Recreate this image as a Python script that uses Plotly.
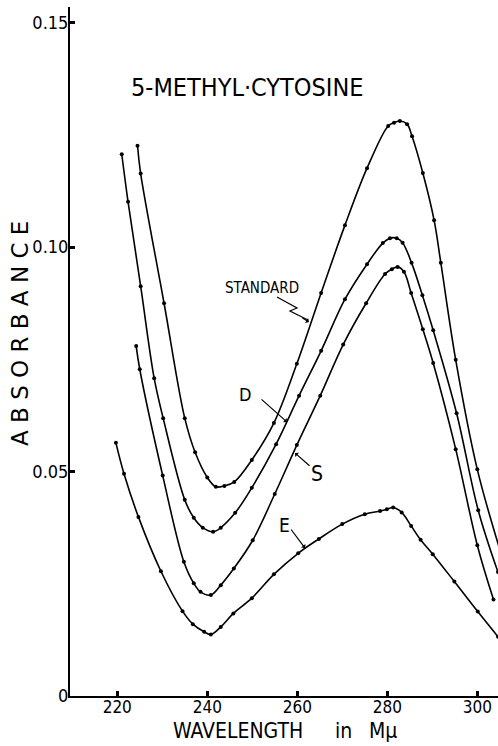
import plotly.graph_objects as go

# ---------------- data (wavelength in mu, absorbance) ----------------
std_wl = [224.5, 225.2, 230.4, 235.0, 237.3, 240.0, 241.9, 243.8, 246.0, 249.9,
          254.8, 259.9, 265.3, 270.6, 275.5, 280.2, 281.5, 282.8, 284.4, 285.5,
          287.9, 290.4, 291.9, 295.2, 300.0, 305.2]
std_ab = [0.1226, 0.1164, 0.0875, 0.0619, 0.0543, 0.0487, 0.0466, 0.0468, 0.0477, 0.0526,
          0.0608, 0.0740, 0.0898, 0.1049, 0.1176, 0.1270, 0.1277, 0.1281, 0.1274, 0.1247,
          0.1165, 0.1060, 0.0965, 0.0749, 0.0505, 0.0320]

d_wl = [221.0, 222.4, 225.2, 228.2, 230.2, 235.0, 237.0, 239.0, 241.3, 243.0,
        246.2, 249.9, 255.3, 260.4, 265.3, 270.6, 275.5, 279.0, 280.6, 282.1,
        283.4, 285.4, 287.8, 290.2, 295.4, 300.2, 304.6]
d_ab = [0.1207, 0.1101, 0.0913, 0.0708, 0.0619, 0.0437, 0.0397, 0.0375, 0.0366, 0.0375,
        0.0408, 0.0464, 0.0561, 0.0669, 0.0769, 0.0884, 0.0962, 0.1009, 0.1020, 0.1020,
        0.1010, 0.0965, 0.0893, 0.0815, 0.0630, 0.0414, 0.0276]

s_wl = [224.2, 225.0, 230.1, 234.8, 237.0, 238.5, 240.8, 243.0, 245.9, 250.1,
        255.0, 259.9, 265.1, 270.2, 275.3, 279.5, 281.0, 282.3, 283.7, 285.3,
        287.9, 290.2, 295.2, 300.0, 303.6]
s_ab = [0.0780, 0.0728, 0.0491, 0.0299, 0.0251, 0.0232, 0.0225, 0.0247, 0.0284, 0.0347,
        0.0450, 0.0559, 0.0669, 0.0783, 0.0875, 0.0940, 0.0951, 0.0956, 0.0945, 0.0898,
        0.0817, 0.0742, 0.0550, 0.0336, 0.0215]

e_wl = [219.7, 221.5, 224.7, 229.7, 234.5, 236.8, 239.3, 240.8, 243.0, 245.8,
        249.9, 254.8, 260.2, 264.8, 270.0, 275.0, 278.4, 279.9, 281.3, 283.2,
        285.3, 287.4, 290.1, 294.9, 300.1, 304.6]
e_ab = [0.0564, 0.0495, 0.0399, 0.0278, 0.0189, 0.0160, 0.0143, 0.0137, 0.0154, 0.0184,
        0.0218, 0.0271, 0.0318, 0.0350, 0.0383, 0.0405, 0.0412, 0.0416, 0.0420, 0.0409,
        0.0379, 0.0348, 0.0316, 0.0255, 0.0188, 0.0132]

x_ticks = [220, 240, 260, 280, 300]
y_ticks = [0, 0.05, 0.10, 0.15]
y_ticktext = ["0", "0.05", "0.10", "0.15"]

# ---------------- layout helpers ----------------
W, H = 498, 746
ML, MR, MT, MB = 70, 0, 7, 50
FONT = "DejaVu Sans Condensed, DejaVu Sans, sans-serif"


def px(xp):
    return (xp - ML) / (W - ML - MR)


def py(yp):
    return (H - MB - yp) / (H - MT - MB)


fig = go.Figure()
for wl, ab in [(std_wl, std_ab), (d_wl, d_ab), (s_wl, s_ab), (e_wl, e_ab)]:
    fig.add_trace(go.Scatter(
        x=wl, y=ab, mode="lines+markers",
        line=dict(color="black", width=1.6, shape="spline", smoothing=1.0),
        marker=dict(size=4, color="black"),
        showlegend=False, hoverinfo="skip"))

ann = []


def text_ann(txt, cx, cy, size, family=FONT, angle=0):
    ann.append(dict(x=px(cx), y=py(cy), xref="paper", yref="paper", showarrow=False,
                    xanchor="center", yanchor="middle", text=txt, textangle=angle,
                    font=dict(family=family, size=size, color="black")))


# title
text_ann("5-METHYL·CYTOSINE", 247, 88, 25)
# y title
text_ann("A B S O R B A N C E", 20, 334, 23, family="DejaVu Sans, sans-serif", angle=-90)
# x title parts
text_ann("WAVELENGTH", 238, 731, 21)
text_ann("in", 343, 731, 21)
text_ann("Mμ", 383, 731, 21)
# curve labels
text_ann("STANDARD", 262, 288, 15)
text_ann("D", 245, 395, 18)
text_ann("S", 317, 474, 21)
text_ann("E", 284, 525, 19)

# arrows (head, tail)
for hx, hy, tx, ty in [(287, 422, 260, 398), (295, 453, 311, 467), (305, 548, 290, 528)]:
    ann.append(dict(x=px(hx), y=py(hy), xref="paper", yref="paper", text="",
                    showarrow=True, ax=tx - hx, ay=ty - hy, arrowhead=1,
                    arrowsize=0.8, arrowwidth=1.2, arrowcolor="black", standoff=0))

shapes = [dict(type="path", xref="paper", yref="paper",
               path="M {},{} L {},{} L {},{} L {},{}".format(
                   px(277), py(297), px(297), py(308), px(290), py(311), px(308), py(320)),
               line=dict(color="black", width=1.2))]
ann.append(dict(x=px(309), y=py(322), xref="paper", yref="paper", text="",
                showarrow=True, ax=-8, ay=-5, arrowhead=1, arrowsize=0.8,
                arrowwidth=1.2, arrowcolor="black", standoff=0))

fig.update_layout(
    width=W, height=H,
    margin=dict(l=ML, r=MR, t=MT, b=MB, pad=0),
    paper_bgcolor="white", plot_bgcolor="white",
    annotations=ann, shapes=shapes,
    xaxis=dict(range=[209.5, 304.6], tickvals=x_ticks, showgrid=False, zeroline=False,
               showline=True, linecolor="black", linewidth=2,
               ticks="inside", ticklen=5, tickwidth=3, tickcolor="black",
               ticklabelstandoff=-5,
               tickfont=dict(family=FONT, size=17, color="black")),
    yaxis=dict(range=[0, 0.1535], tickvals=y_ticks, ticktext=y_ticktext,
               showgrid=False, zeroline=False,
               showline=True, linecolor="black", linewidth=2,
               ticks="inside", ticklen=5, tickwidth=3, tickcolor="black",
               ticklabelstandoff=-4,
               tickfont=dict(family=FONT, size=18, color="black")),
)

fig.write_html("out.html")
